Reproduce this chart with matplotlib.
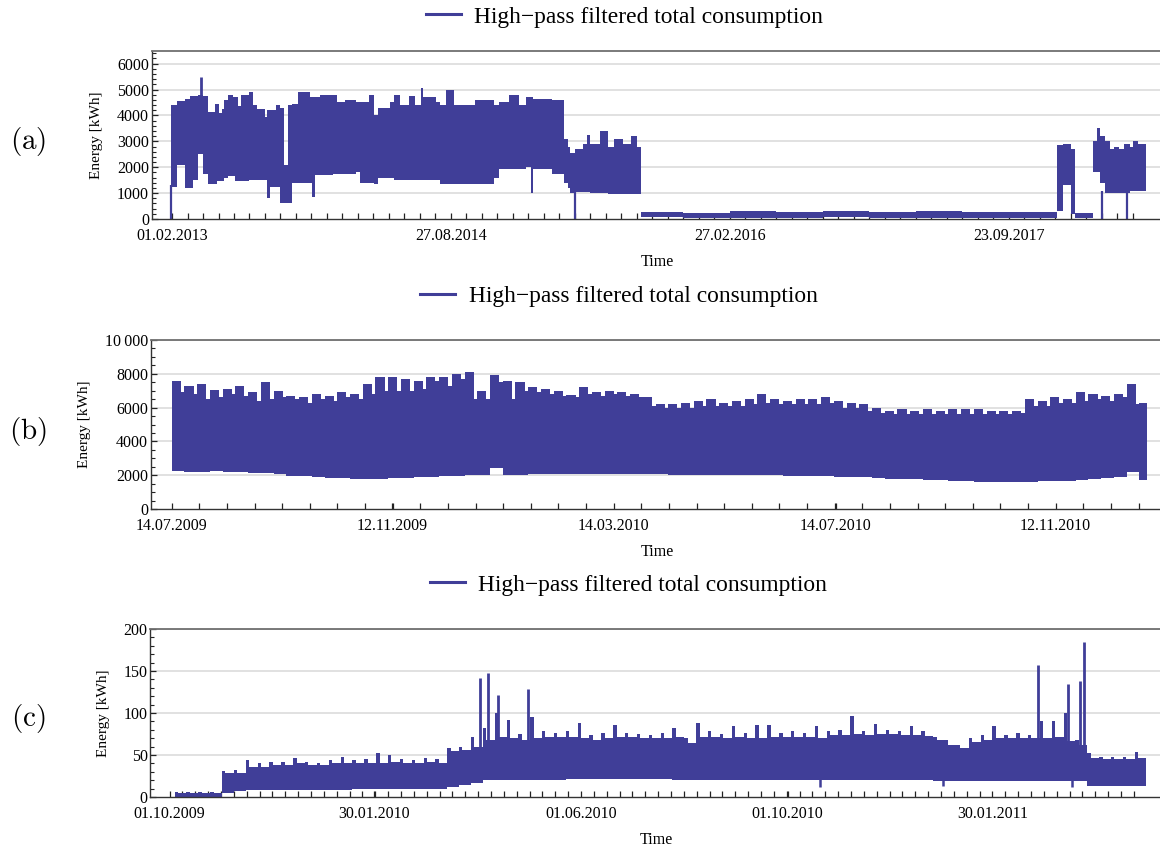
import numpy as np
import matplotlib
matplotlib.use('Agg')
import matplotlib.pyplot as plt
from matplotlib.lines import Line2D

plt.rcParams['font.family'] = ['Liberation Serif', 'DejaVu Serif']
plt.rcParams['mathtext.fontset'] = 'cm'

COL = '#403e98'
LEG = 'High\u2212pass filtered total consumption'

# ---- panel (a): x in sample index (one unit = one minor tick), step envelopes
a_t = [-0.06, 0.30, 0.84, 1.16, 1.38, 1.65, 1.98, 2.30, 2.77, 2.93, 3.05, 3.20, 3.35, 3.63, 3.91,
       4.05, 4.28, 4.43, 4.99, 5.20, 5.46, 6.00, 6.11, 6.32, 6.71, 6.97, 7.23, 7.50, 7.72, 8.16,
       8.90, 9.05, 9.20, 9.52, 10.38, 10.63, 11.13, 11.87, 12.11, 12.73, 13.05, 13.30, 14.09, 14.33,
       14.70, 15.32, 15.69, 16.06, 16.20, 17.05, 17.30, 17.67, 18.20, 19.52, 20.75, 21.10, 21.74,
       22.36, 22.85, 23.15, 23.30, 24.50, 25.28, 25.55, 25.70, 26.00, 26.50, 26.75, 27.00, 27.62,
       28.10, 28.55, 29.10, 29.60, 29.97, 30.23, 33.0, 36.0, 39.0, 42.0, 45.0, 48.0, 51.0, 54.0,
       57.10, 57.50, 58.00, 58.26, 59.40, 59.65, 59.85, 60.20, 60.50, 60.80, 61.10, 61.40, 61.80,
       62.00, 62.30, 62.84]
a_hi = [4400, 4550, 4650, 4750, 4750, 4800, 4750, 4150, 4450, 4450, 4100, 4250, 4600, 4800, 4700,
        4700, 4350, 4800, 4900, 4400, 4250, 3950, 4200, 4200, 4400, 4300, 2100, 4400, 4450, 4900,
        4700, 4700, 4700, 4800, 4800, 4500, 4600, 4500, 4500, 4800, 4000, 4300, 4500, 4800,
        4400, 4750, 4400, 5050, 4700, 4500, 4400, 5000, 4400, 4600, 4400, 4500, 4800,
        4400, 4700, 4700, 4650, 4600, 3100, 2800, 2550, 2700, 2900, 3250, 2900, 3400,
        2800, 3100, 2900, 3200, 2800, 280, 250, 300, 260, 290, 270, 300, 260, 280,
        2850, 2900, 2700, 250, 3000, 3500, 3200, 3000, 2700, 2800, 2700, 2900, 2800,
        3000, 2900, 2900]
a_lo = [1250, 2100, 1200, 1200, 1500, 2500, 1750, 1350, 1350, 1450, 1450, 1450, 1600, 1650, 1650,
        1450, 1450, 1450, 1500, 1500, 1500, 1500, 800, 1250, 1250, 600, 600, 600, 1400, 1400,
        1400, 850, 1700, 1700, 1750, 1750, 1750, 1800, 1400, 1400, 1350, 1600, 1600, 1500,
        1500, 1500, 1500, 1500, 1500, 1500, 1350, 1350, 1350, 1350, 1600, 1950, 1950,
        1950, 2000, 1000, 1950, 1750, 1400, 1200, 1000, 1050, 1050, 1050, 1000, 1000,
        950, 950, 950, 950, 950, 60, 40, 50, 30, 60, 20, 50, 40, 30,
        300, 1300, 200, 40, 1800, 1800, 1400, 1000, 1000, 1000, 1000, 1000, 1100,
        1100, 1100, 1100]
a_spike_t = [1.89]
a_spike_top = [5500]
a_dip_t = [-0.05, 25.97, 60.0, 61.6]
a_dip_top = [1300, 1100, 1100, 1100]
a_labels = ['01.02.2013', '27.08.2014', '27.02.2016', '23.09.2017']

# ---- panel (b): weekly values, weeks start every 7 days from 14.07.2009
b_peak = [7600, 7300, 7400, 7050, 7100, 7300, 6950, 7500, 7000, 6700,
          6600, 6800, 6700, 6900, 6800, 7400, 7800, 7800, 7700, 7600,
          7800, 7800, 8000, 8100, 7000, 7900, 7600, 7500, 7200, 7100,
          7000, 6750, 7200, 6900, 7000, 6900, 6800, 6650, 6200, 6200,
          6300, 6400, 6500, 6300, 6400, 6500, 6800, 6500, 6400, 6500,
          6500, 6600, 6400, 6300, 6200, 6000, 5800, 5900, 5800, 5900,
          5800, 5900, 5900, 5900, 5800, 5800, 5800, 6500, 6400, 6650,
          6500, 6900, 6800, 6700, 6800, 7400, 6300]
b_dip = [6900, 6800, 6500, 6600, 6800, 6700, 6400, 6500, 6600, 6500,
         6300, 6500, 6400, 6600, 6500, 6800, 7000, 7000, 7000, 7100,
         7600, 7300, 7700, 6500, 6500, 7500, 6500, 7000, 6900, 6800,
         6700, 6600, 6800, 6700, 6800, 6700, 6600, 6100, 6000, 6000,
         6000, 6100, 6100, 6100, 6100, 6200, 6300, 6200, 6200, 6200,
         6200, 6300, 6000, 6000, 5800, 5700, 5600, 5600, 5600, 5600,
         5600, 5600, 5600, 5600, 5600, 5600, 5700, 6100, 6100, 6300,
         6300, 6400, 6500, 6400, 6600, 6200, 6300]
b_low = [2250, 2200, 2200, 2250, 2200, 2200, 2150, 2150,
         2050, 1950, 1950, 1900, 1850, 1850,
         1800, 1800, 1800, 1850, 1850,
         1900, 1900, 1950, 1950, 2000, 2000,
         2400,
         2000, 2000, 2050, 2050, 2100, 2100, 2100, 2100,
         2100, 2100, 2100, 2050, 2050, 2000,
         2000, 2000, 2000, 2000, 2000, 2000, 2000, 2000, 1950, 1950, 1950, 1950, 1900, 1900, 1900,
         1850, 1800, 1800, 1750, 1700, 1700,
         1650, 1650, 1600, 1600, 1600, 1600,
         1600, 1650, 1650, 1650, 1700,
         1800, 1850, 1900,
         2200,
         1700]
b_end = 536
b_labels = ['14.07.2009', '12.11.2009', '14.03.2010', '14.07.2010', '12.11.2010']
b_label_days = [0, 121, 243, 365, 486]

# ---- panel (c): weekly values, weeks start on day 3 + 7k after 01.10.2009
c_peak = [6, 6, 6, 6, 31, 32, 44, 40, 42, 42,
          46, 42, 41, 44, 48, 44, 45, 52, 50, 45,
          44, 47, 45, 58, 60, 71, 82, 100, 92, 75,
          95, 78, 76, 78, 88, 74, 76, 86, 76, 75,
          74, 76, 82, 70, 88, 78, 75, 85, 76, 86,
          86, 76, 78, 76, 85, 78, 80, 97, 78, 87,
          80, 78, 84, 78, 72, 68, 62, 70, 74, 84,
          74, 76, 74, 90, 90, 100, 68, 52, 48, 48,
          48, 53]
c_base = [5, 5, 5, 5, 28, 28, 36, 36, 38, 38,
          40, 38, 38, 40, 40, 40, 41, 41, 42, 41,
          41, 42, 40, 55, 56, 60, 68, 72, 70, 68,
          70, 72, 72, 72, 70, 68, 70, 72, 72, 70,
          70, 70, 72, 64, 72, 72, 70, 72, 70, 70,
          72, 72, 72, 72, 70, 74, 74, 75, 74, 75,
          75, 74, 74, 73, 68, 62, 58, 66, 68, 70,
          70, 70, 70, 70, 72, 67, 62, 46, 45, 45,
          45, 46]
c_low = [0, 0, 0, 0, 5, 7, 8, 8, 8, 8,
         8, 8, 8, 8, 8, 9, 9, 9, 9, 9,
         9, 9, 10, 12, 14, 17, 20, 20, 20, 20,
         20, 20, 20, 21, 21, 21, 21, 21, 21, 21,
         21, 21, 20, 20, 20, 20, 20, 20, 20, 20,
         20, 20, 20, 20, 20, 20, 20, 20, 20, 20,
         20, 20, 20, 20, 19, 19, 19, 19, 19, 19,
         19, 19, 19, 19, 19, 19, 19, 13, 13, 13,
         13, 13]
c_end = 576.6
c_spike_t = [183.5, 188, 193.7, 211.8, 513, 530.7, 537.5, 540.2]
c_spike_top = [142, 148, 122, 128, 157, 134, 138, 185]
c_dip_t = [384, 456.6, 533]
c_dip_bottom = [12, 13, 12]
c_labels = ['01.10.2009', '30.01.2010', '01.06.2010', '01.10.2010', '30.01.2011']
c_label_days = [0, 121, 243, 365, 486]


def weekly_steps(start, hold, hi1, hi2, lo, end):
    # each week: hi1 for `hold` days, then hi2 for the rest of the week
    t, hi, low = [], [], []
    for k in range(len(hi1)):
        w = start + 7 * k
        t += [w, w + hold]
        hi += [hi1[k], hi2[k]]
        low += [lo[k], lo[k]]
    t.append(end)
    hi.append(hi[-1])
    low.append(low[-1])
    return t, hi, low


W, H = 1160, 847
fig = plt.figure(figsize=(W / 100, H / 100), dpi=100)


def box(left, top, right, bottom):
    return [left / W, 1 - bottom / H, (right - left) / W, (bottom - top) / H]


def style(ax, xmaj, xlab, xmin, yticks, ylabs, yminor, ylim):
    ax.set_ylim(*ylim)
    ax.set_xticks(xmaj)
    ax.set_xticklabels(xlab)
    ax.set_xticks([v for v in xmin if min(abs(v - m) for m in xmaj) > 1e-6], minor=True)
    ax.set_yticks(yticks)
    ax.set_yticklabels(ylabs)
    ax.set_yticks(yminor, minor=True)
    ax.tick_params(axis='x', which='both', direction='in', length=4.2, width=0.9,
                   color='#222222', labelsize=11.5, pad=6.5)
    ax.tick_params(axis='y', which='major', direction='in', length=4.5, width=0.9,
                   color='#222222', labelsize=11.5, pad=2)
    ax.tick_params(axis='y', which='minor', direction='in', length=2.6, width=0.8, color='#222222')
    for v in yticks[1:]:
        ax.axhline(v, color='#d8d8d8', lw=1.1, zorder=0)
    ax.spines['right'].set_visible(False)
    for s in ['left', 'bottom']:
        ax.spines[s].set_color('#333333')
        ax.spines[s].set_linewidth(1.0)
    ax.spines['top'].set_color('#707070')
    ax.spines['top'].set_linewidth(1.3)
    ax.set_xlabel('Time', fontsize=11.5, labelpad=7)
    ax.set_ylabel('Energy [kWh]', fontsize=11, labelpad=10)


# (a)
ax1 = fig.add_axes(box(151.7, 50.7, 1163, 219))
ax1.fill_between(a_t, a_lo, a_hi, step='post', color=COL, lw=0, zorder=2)
ax1.vlines(a_spike_t, 4000, a_spike_top, color=COL, lw=2, zorder=2)
ax1.vlines(a_dip_t, 0, a_dip_top, color=COL, lw=1.6, zorder=2)
ax1.set_xlim(-1.31, 63.94)
style(ax1, [0, 18, 36, 54], a_labels, np.arange(63),
      np.arange(0, 6001, 1000), [str(v) for v in range(0, 6001, 1000)],
      np.arange(0, 6500, 200), (0, 6500))

# (b)
ax2 = fig.add_axes(box(151, 340, 1163, 509))
bt, bh, bl = weekly_steps(0, 5, b_peak, b_dip, b_low, b_end)
ax2.fill_between(bt, bl, bh, step='post', color=COL, lw=0, zorder=2)
ax2.set_xlim(-11.4, 545)
style(ax2, b_label_days, b_labels, np.arange(36) * 486 / 32,
      np.arange(0, 10001, 2000), ['0', '2000', '4000', '6000', '8000', '10\u2009000'],
      np.arange(0, 10001, 500), (0, 10000))

# (c)
ax3 = fig.add_axes(box(150.4, 629, 1163, 797))
ct, ch, cl = weekly_steps(3, 2, c_peak, c_base, c_low, c_end)
ax3.fill_between(ct, cl, ch, step='post', color=COL, lw=0, zorder=2)
ax3.vlines(c_spike_t, 40, c_spike_top, color=COL, lw=2, zorder=2)
ax3.vlines(c_dip_t, c_dip_bottom, 40, color=COL, lw=1.8, zorder=2)
ax3.set_xlim(-11.3, 586.7)
style(ax3, c_label_days, c_labels, np.arange(76) * 486 / 64,
      np.arange(0, 201, 50), ['0', '50', '100', '150', '200'],
      np.arange(0, 201, 10), (0, 200))

# legends above each panel
for cx, cy in [(624.5, 17), (618.8, 296), (628.5, 585)]:
    h = Line2D([], [], color=COL, lw=2.2)
    fig.legend([h], [LEG], loc='center', bbox_to_anchor=(cx / W, 1 - cy / H),
               frameon=False, fontsize=16.9, handlelength=1.5, handletextpad=0.57,
               borderpad=0, borderaxespad=0)

# panel letters
for lab, cy in [('a', 142), ('b', 431), ('c', 718)]:
    fig.text(28 / W, 1 - cy / H, r'$(\mathrm{%s})$' % lab, fontsize=21, ha='center', va='center')

fig.savefig('out.png', dpi=100)
